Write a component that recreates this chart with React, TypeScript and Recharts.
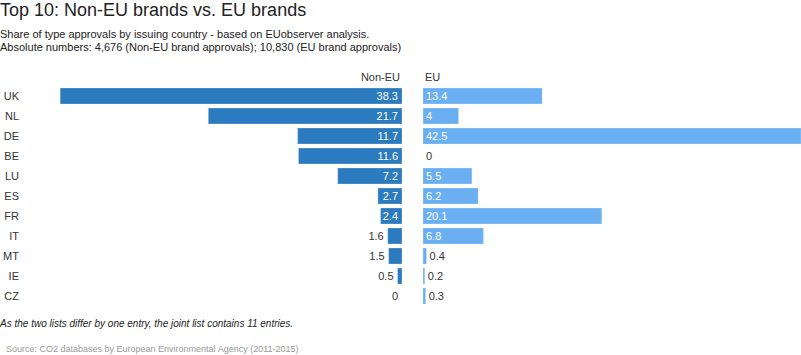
import React from "react";
import { BarChart, Bar, XAxis, YAxis } from "recharts";

const countries = ["UK", "NL", "DE", "BE", "LU", "ES", "FR", "IT", "MT", "IE", "CZ"];
const nonEuShare = [38.3, 21.7, 11.7, 11.6, 7.2, 2.7, 2.4, 1.6, 1.5, 0.5, 0];
const euShare = [13.4, 4, 42.5, 0, 5.5, 6.2, 20.1, 6.8, 0.4, 0.2, 0.3];

const title = "Top 10: Non-EU brands vs. EU brands";
const subtitle1 = "Share of type approvals by issuing country - based on EUobserver analysis.";
const subtitle2 = "Absolute numbers: 4,676 (Non-EU brand approvals); 10,830 (EU brand approvals)";
const footnote = "As the two lists differ by one entry, the joint list contains 11 entries.";
const source = "Source: CO2 databases by European Environmental Agency (2011-2015)";
const seriesNames = ["Non-EU", "EU"];

const data = countries.map((c, i) => ({ country: c, nonEu: nonEuShare[i], eu: euShare[i] }));

const FONT = '"Helvetica Neue", Helvetica, "Liberation Sans", Arial, sans-serif';
const DARK = "#2c7bbf";
const LIGHT = "#6aaff1";
const TEXT = "#333333";

const makeShape = (side: "left" | "right", fill: string) => (props: any) => {
  const { x, y, width, height, value } = props;
  const v = Array.isArray(value) ? value[1] - value[0] : value;
  const left = Math.min(x, x + width);
  const right = Math.max(x, x + width);
  const w = Math.abs(width);
  const cy = y + height / 2;
  const inside = v >= 2;
  let tx: number;
  let anchor: "start" | "end";
  if (side === "left") {
    tx = inside ? right - 4 : left - 4;
    anchor = "end";
  } else {
    tx = inside ? left + 3 : right + 3;
    anchor = "start";
  }
  return (
    <g>
      {w > 0 && (
        <rect x={left} y={y} width={w} height={height} fill={fill} stroke="#ffffff" strokeOpacity={0.25} strokeWidth={1} />
      )}
      <text
        x={tx}
        y={cy}
        dy="0.35em"
        textAnchor={anchor}
        fontSize={11}
        fontFamily={FONT}
        fill={inside ? "#ffffff" : TEXT}
      >
        {String(v)}
      </text>
    </g>
  );
};

const LeftShape = makeShape("left", DARK);
const RightShape = makeShape("right", LIGHT);

export default function App() {
  return (
    <div
      style={{
        position: "absolute",
        left: 0,
        top: 0,
        width: 801,
        height: 355,
        background: "#ffffff",
        fontFamily: FONT,
        color: TEXT,
        overflow: "hidden",
      }}
    >
      <div style={{ position: "absolute", left: 0, top: -1, fontSize: 18, lineHeight: "22px", color: "#222" }}>{title}</div>
      <div style={{ position: "absolute", left: 0, top: 28, fontSize: 11, lineHeight: "13px", color: "#222" }}>{subtitle1}</div>
      <div style={{ position: "absolute", left: 0, top: 41, fontSize: 11, lineHeight: "13px", color: "#222" }}>{subtitle2}</div>

      <div style={{ position: "absolute", left: 300, width: 100, top: 70, fontSize: 11, lineHeight: "14px", textAlign: "right" }}>{seriesNames[0]}</div>
      <div style={{ position: "absolute", left: 425, top: 70, fontSize: 11, lineHeight: "14px" }}>{seriesNames[1]}</div>

      <div style={{ position: "absolute", left: 0, top: 86 }}>
        <BarChart width={402} height={220} data={data} layout="vertical" margin={{ top: 0, right: 0, left: 0, bottom: 0 }} barCategoryGap={2}>
          <XAxis type="number" hide domain={[0, 42.8]} reversed allowDataOverflow />
          <YAxis
            type="category"
            dataKey="country"
            width={20}
            axisLine={false}
            tickLine={false}
            tickSize={0}
            tickMargin={1}
            tick={{ fontSize: 11, fill: TEXT, fontFamily: FONT }}
            interval={0}
          />
          <Bar dataKey="nonEu" fill={DARK} barSize={16} isAnimationActive={false} shape={LeftShape} />
        </BarChart>
      </div>

      <div style={{ position: "absolute", left: 423, top: 86 }}>
        <BarChart width={378} height={220} data={data} layout="vertical" margin={{ top: 0, right: 0, left: 0, bottom: 0 }} barCategoryGap={2}>
          <XAxis type="number" hide domain={[0, 42.5]} allowDataOverflow />
          <YAxis type="category" dataKey="country" hide width={0} />
          <Bar dataKey="eu" fill={LIGHT} barSize={16} isAnimationActive={false} shape={RightShape} />
        </BarChart>
      </div>

      <div style={{ position: "absolute", left: 0, top: 317, fontSize: 10, lineHeight: "13px", fontStyle: "italic", color: "#222" }}>{footnote}</div>
      <div style={{ position: "absolute", left: 6, top: 343, fontSize: 9, lineHeight: "12px", color: "#999999" }}>{source}</div>
    </div>
  );
}
